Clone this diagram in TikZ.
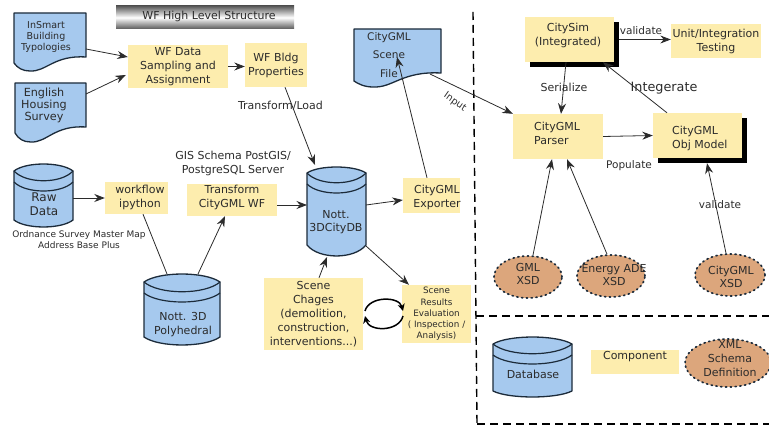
\documentclass[tikz,border=0pt]{standalone}
\usepackage{fontspec}
\setmainfont{DejaVu Sans}
\usetikzlibrary{arrows.meta,shapes.geometric,shadows}
\definecolor{yb}{HTML}{FDEDAE}
\definecolor{bl}{HTML}{A6C9EE}
\definecolor{br}{HTML}{DCA67C}
\definecolor{ink}{HTML}{2B2B2B}
\definecolor{edgec}{HTML}{1C2B3A}
\newcommand{\fs}[2]{\fontsize{#1}{#2}\selectfont}
\tikzset{
  ybox/.style={fill=yb,inner sep=0pt,align=center,text=ink,font=\fs{11}{14}},
  shad/.style={drop shadow={shadow xshift=5pt,shadow yshift=-5pt,fill=black,opacity=1}},
  txt/.style={inner sep=0pt,align=center,text=ink,font=\fs{11}{14}},
  xsd/.style={ellipse,draw=edgec,fill=br,line width=1.7pt,line cap=round,dash pattern=on 1.2pt off 3.6pt,inner sep=0pt,align=center,text=ink,font=\fs{11}{13}},
  solidshape/.style={draw=edgec,fill=bl,line width=1.3pt,line join=round},
  conn/.style={draw=ink,line width=0.8pt},
  arr/.style={conn,-{Stealth[length=10.5pt,width=8pt,inset=3.5pt]}},
  cyc/.style={draw=black,line width=1.5pt,-{Stealth[length=7pt,width=7pt,inset=2pt]}},
  sep/.style={draw=black,line width=1.4pt,dash pattern=on 8pt off 5pt},
}
% #1 x1, #2 x2, #3 top, #4 side top, #5 side bottom, #6 bottom
\newcommand{\cyldraw}[6]{
  \path[solidshape] (#1,#4) .. controls ({#1+(#2-#1)*.2},{#4-(#4-#3)*1.33}) and ({#2-(#2-#1)*.2},{#4-(#4-#3)*1.33}) .. (#2,#4)
    -- (#2,#5) .. controls ({#2-(#2-#1)*.2},{#5+(#6-#5)*1.33}) and ({#1+(#2-#1)*.2},{#5+(#6-#5)*1.33}) .. (#1,#5) -- cycle;
  \draw[edgec,line width=1.2pt] (#1,#4) .. controls ({#1+(#2-#1)*.2},{#4+13}) and ({#2-(#2-#1)*.2},{#4+13}) .. (#2,#4);
  \draw[edgec,line width=1.2pt] (#1,{#4+11}) .. controls ({#1+(#2-#1)*.2},{#4+23}) and ({#2-(#2-#1)*.2},{#4+23}) .. (#2,{#4+11});
}
% #1 x1, #2 x2, #3 top, #4 right bottom, #5 left bottom, #6 lowest
\newcommand{\docdraw}[6]{
  \path[solidshape] (#1,#3) -- (#2,#3) -- (#2,#4)
    .. controls ({#2-(#2-#1)*.45},{#4-2}) and ({#1+(#2-#1)*.45},{#6+1}) .. ({#1+(#2-#1)*.22},#6)
    .. controls ({#1+(#2-#1)*.12},#6) and ({#1+(#2-#1)*.05},{#6-3}) .. (#1,#5) -- cycle;
}
\begin{document}
\begin{tikzpicture}[x=1pt,y=-1pt]
\useasboundingbox (0,0) rectangle (769,427);

% separators
\coordinate (v1) at (473,12); \coordinate (v2) at (477,424);
\coordinate (h1) at (476,316); \coordinate (h2) at (769,316);
\coordinate (b1) at (477,424); \coordinate (b2) at (769,424);
\draw[sep] (v1) -- (v2);
\draw[sep] (h1) -- (h2);
\draw[sep] (b1) -- (b2);

% title
\node[top color=black!65,bottom color=black!65,middle color=white,minimum width=178pt,minimum height=23pt,inner sep=0pt] (title) at (205,17.5) {};
\node[txt,font=\fs{11}{12}] (titlet) at (209,16.5) {WF High Level Structure};

% documents
\docdraw{14}{86}{13}{57}{63}{71}
\node[txt,font=\fs{9.5}{10.7}] (ins) at (46,37) {InSmart\\Building\\Typologies};
\docdraw{15}{86}{83}{127}{133}{142}
\node[txt,font=\fs{11.2}{12}] (eng) at (44,105) {English\\Housing\\Survey};
\docdraw{354}{441}{29}{73}{81}{87}
\node[txt,font=\fs{10.5}{18.5}] (file) at (389,55) {CityGML\\Scene\\File};

% cylinders
\cyldraw{14}{73}{164}{171}{220}{227}
\node[txt,font=\fs{12}{14}] (raw) at (44,204.5) {Raw\\Data};
\cyldraw{144}{220}{274}{282}{337}{345}
\node[txt] (poly) at (183,325) {Nott. 3D\\Polyhedral};
\cyldraw{307}{366}{167}{173}{245}{256}
\node[txt,font=\fs{11}{13}] (db) at (336,222) {Nott.\\3DCityDB};
\cyldraw{493}{572}{337}{344}{391}{397}
\node[txt] (dbleg) at (533,374) {Database};

% yellow boxes
\node[ybox,minimum width=100pt,minimum height=43pt] (wfd) at (178,66.5) {WF Data\\Sampling and\\Assignment};
\node[ybox,minimum width=62pt,minimum height=44pt] (bld) at (276,65) {WF Bldg\\Properties};
\node[ybox,minimum width=63pt,minimum height=32pt] (wfl) at (136.5,198) {};
\node[txt] (wflt) at (140,197) {workflow\\ipython};
\node[ybox,minimum width=90pt,minimum height=32pt] (tr) at (232,200) {};
\node[txt] (trt) at (232,197) {Transform\\CityGML WF};
\node[ybox,minimum width=57pt,minimum height=35pt] (exp) at (431.5,195.5) {};
\node[txt] (expt) at (437,197) {CityGML\\Exporter};
\node[ybox,minimum width=99pt,minimum height=72pt] (chg) at (313.5,314) {Scene\\Chages\\(demolition,\\construction,\\interventions...)};
\node[ybox,minimum width=69pt,minimum height=58pt,font=\fs{8.8}{11.3}] (res) at (436.5,314) {Scene\\Results\\Evaluation\\( Inspection /\\Analysis)};
\node[ybox,shad,minimum width=89pt,minimum height=45pt] (csim) at (569.5,39.5) {};
\node[txt] (csimt) at (568,35) {CitySim\\(Integrated)};
\node[ybox,minimum width=90pt,minimum height=34pt] (unit) at (716,41) {Unit/Integration\\Testing};
\node[ybox,minimum width=90pt,minimum height=45pt] (par) at (558,136.5) {};
\node[txt,align=left,anchor=west] (part) at (534,133) {CityGML\\Parser};
\node[ybox,shad,minimum width=89pt,minimum height=45pt] (obj) at (697.5,135.5) {};
\node[txt,align=left,anchor=west] (objt) at (672,138) {CityGML\\Obj Model};
\node[ybox,minimum width=88pt,minimum height=24pt] (comp) at (635,362) {};
\node[txt] (compt) at (635,357) {Component};

% ellipses
\node[xsd,minimum width=68pt,minimum height=42pt] (gml) at (528,277) {};
\node[txt,font=\fs{11}{13}] (gmlt) at (528,273.5) {GML\\XSD};
\node[xsd,minimum width=68pt,minimum height=42pt] (en) at (611,276) {};
\node[txt,font=\fs{11}{13}] (ent) at (614,275.5) {Energy ADE\\XSD};
\node[xsd,minimum width=70pt,minimum height=42pt] (cx) at (730,275) {};
\node[txt,font=\fs{11}{13}] (cxt) at (731,276.5) {CityGML\\XSD};
\node[xsd,minimum width=86pt,minimum height=48pt] (xml) at (728,363) {};
\node[txt] (xmlt) at (730,359) {XML\\Schema\\Definition};

% connectors
\draw[arr] ([shift={(40,12)}]ins.center) -- ([yshift=9.5pt]wfd.west);
\draw[arr] ([shift={(42,-11)}]eng.center) -- ([shift={(-2,8.5)}]wfd.west);
\draw[arr] (wfd.east) -- (wfd.east -| bld.west);
\draw[arr] ([xshift=9pt]bld.south) -- ([shift={(-21,-57)}]db.center);
\draw[arr] ([shift={(29,-6.5)}]raw.center) -- (wfl.west);
\draw[conn] ([xshift=6.5pt]wfl.south) -- ([shift={(-16,-51)}]poly.center);
\draw[arr] ([shift={(15,-51)}]poly.center) -- ([xshift=-7pt]tr.south);
\draw[arr] ([yshift=-5pt]tr.east) -- ([shift={(-29,-17)}]db.center);
\draw[arr] ([shift={(30,-17)}]db.center) -- ([yshift=-4.5pt]exp.west);
\draw[arr] ([xshift=-4.5pt]exp.north) -- ([shift={(8,2)}]file.center);
\draw[arr] ([shift={(30,24)}]db.center) -- ([xshift=-27.5pt]res.north);
\draw[arr] ([xshift=5.5pt]chg.north) -- ([shift={(-9,35)}]db.center);
\draw[arr] ([shift={(41,19)}]file.center) -- (par.north west);
\draw[arr] ([xshift=-3.5pt]csim.south) -- ([xshift=3pt]par.north);
\draw[arr] ([xshift=-30.5pt]obj.north) -- ([xshift=33.5pt]csim.south);
\draw[arr] ([xshift=5pt]csim.east) -- ([yshift=1.5pt]unit.west);
\draw[arr] (par.east) -- (obj.west);
\draw[arr] ([xshift=5pt]gml.north) -- ([xshift=-6pt]par.south);
\draw[arr] ([xshift=-4pt]en.north) -- ([xshift=9pt]par.south);
\draw[arr] ([xshift=-4pt]cx.north) -- ([shift={(9.5,5)}]obj.south);

% cycle arrows
\coordinate (cyA) at (365,311); \coordinate (cyB) at (403,311);
\coordinate (cyC) at (403,316); \coordinate (cyD) at (365,316);
\draw[cyc] (cyA) .. controls (369,296) and (399,296) .. (cyB);
\draw[cyc] (cyC) .. controls (399,332) and (369,332) .. (cyD);

% labels
\node[txt] (lt) at (280.5,106) {Transform/Load};
\node[txt] (lg) at (233,163) {GIS Schema PostGIS/\\PostgreSQL Server};
\node[txt,font=\fs{9}{11}] (lo) at (79,239.5) {Ordnance Survey Master Map\\Address Base Plus};
\node[txt,font=\fs{9.6}{11},rotate=-35] (li) at (455,102) {Input};
\node[txt,font=\fs{10.5}{12}] (lv1) at (641,31) {validate};
\node[txt,font=\fs{11}{12}] (ls) at (564,87) {Serialize};
\node[txt,font=\fs{12.8}{14}] (li2) at (664,88) {Integerate};
\node[txt,font=\fs{10.5}{12}] (lp) at (629,166) {Populate};
\node[txt,font=\fs{10.5}{12}] (lv2) at (720,205) {validate};
\end{tikzpicture}
\end{document}
